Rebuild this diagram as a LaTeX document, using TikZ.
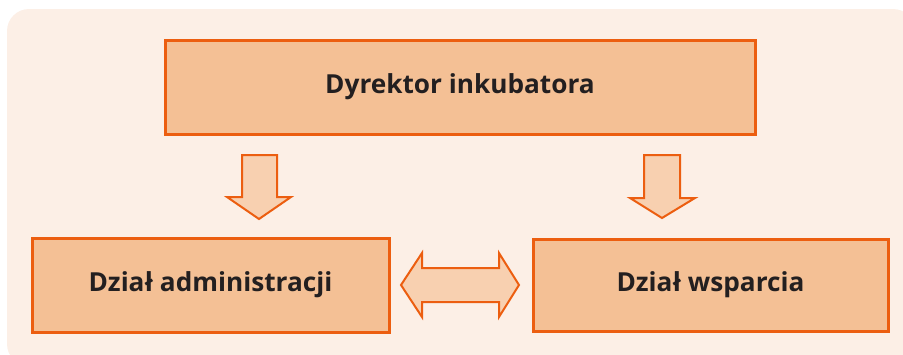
\documentclass[tikz,border=0pt]{standalone}
\usepackage{fontspec}
\setmainfont{Open Sans}
\definecolor{bgc}{RGB}{252,239,230}
\definecolor{boxfill}{RGB}{244,192,149}
\definecolor{arrfill}{RGB}{248,208,176}
\definecolor{edge}{RGB}{236,94,16}
\definecolor{txt}{RGB}{35,31,32}
\begin{document}
\begin{tikzpicture}[x=1pt,y=-1pt,
  orgbox/.style={draw=edge,fill=boxfill,line width=3pt,inner sep=0pt,
     font=\fontsize{26.2}{31}\selectfont\bfseries,text=txt},
  blockarrow/.style={draw=edge,fill=arrfill,line width=2pt,line join=miter}]
\useasboundingbox (0,0) rectangle (903,354);
\clip (0,0) rectangle (903,354);
\fill[bgc,rounded corners=22pt] (7,9) rectangle (915,366);
\node[orgbox,minimum width=590pt,minimum height=94pt] (dyr) at (460,87) {Dyrektor inkubatora};
\node[orgbox,minimum width=357pt,minimum height=94pt] (adm) at (210.5,285) {Dział administracji};
\node[orgbox,minimum width=355pt,minimum height=92pt] (wsp) at (710.5,285) {Dział wsparcia};
% down arrows
\draw[blockarrow] (242,155) -- (277,155) -- (277,197) -- (291,197) -- (259,219) -- (227,197) -- (242,197) -- cycle;
\draw[blockarrow] (644,155) -- (680,155) -- (680,198) -- (695,198) -- (662,218) -- (630,198) -- (644,198) -- cycle;
% double arrow
\draw[blockarrow] (401,285) -- (422,253) -- (422,268) -- (499,268) -- (499,253) -- (519,285) -- (499,317) -- (499,302) -- (422,302) -- (422,317) -- cycle;
\end{tikzpicture}
\end{document}
